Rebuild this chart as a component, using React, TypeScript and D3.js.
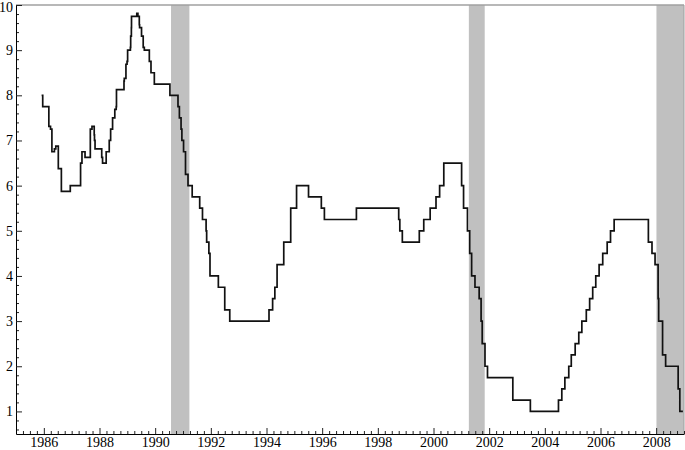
import * as d3 from 'd3';
import React, { useRef, useEffect } from 'react';

// federal funds target: year of each change and the new rate (%)
const changeYears = [
  1985.92, 1985.96, 1986.18, 1986.24, 1986.29, 1986.38, 1986.43, 1986.52, 1986.63, 1986.95,
  1987.32, 1987.37, 1987.48, 1987.67, 1987.73, 1987.81, 1987.82, 1987.84,
  1988.08, 1988.11, 1988.24, 1988.35, 1988.40, 1988.47, 1988.55, 1988.60, 1988.61,
  1988.88, 1988.89, 1988.95, 1988.99, 1989.01, 1989.11, 1989.12, 1989.145, 1989.15,
  1989.34, 1989.38, 1989.43, 1989.44, 1989.51, 1989.57, 1989.61, 1989.79, 1989.85, 1989.97,
  1990.53, 1990.82, 1990.87, 1990.93, 1990.96, 1991.02, 1991.09, 1991.18, 1991.33,
  1991.60, 1991.70, 1991.83, 1991.85, 1991.93, 1991.97, 1992.27, 1992.50, 1992.68,
  1994.09, 1994.22, 1994.30, 1994.38, 1994.62, 1994.87, 1995.08, 1995.51, 1995.97, 1996.08,
  1997.23, 1998.75, 1998.79, 1998.88, 1999.49, 1999.65, 1999.88, 2000.09, 2000.22, 2000.37,
  2001.01, 2001.08, 2001.22, 2001.30, 2001.37, 2001.49, 2001.64, 2001.71, 2001.75, 2001.85,
  2001.94, 2002.85, 2003.48, 2004.49, 2004.61, 2004.72, 2004.86, 2004.95,
  2005.09, 2005.22, 2005.33, 2005.49, 2005.61, 2005.72, 2005.83, 2005.95,
  2006.08, 2006.24, 2006.36, 2006.49, 2007.72, 2007.85, 2007.96, 2008.07, 2008.09,
  2008.23, 2008.34, 2008.79, 2008.85,
];
const targetRates = [
  8.0, 7.75, 7.3125, 7.25, 6.75, 6.8125, 6.875, 6.375, 5.875, 6.0,
  6.5, 6.75, 6.625, 7.25, 7.3125, 7.125, 7.0, 6.8125,
  6.625, 6.5, 6.75, 7.0, 7.25, 7.5, 7.6875, 7.75, 8.125,
  8.3125, 8.375, 8.6875, 8.75, 9.0, 9.0625, 9.3125, 9.5, 9.75,
  9.8125, 9.75, 9.5625, 9.5, 9.3125, 9.0625, 9.0, 8.75, 8.5, 8.25,
  8.0, 7.75, 7.5, 7.25, 7.0, 6.75, 6.25, 6.0, 5.75,
  5.5, 5.25, 5.0, 4.75, 4.5, 4.0, 3.75, 3.25, 3.0,
  3.25, 3.5, 3.75, 4.25, 4.75, 5.5, 6.0, 5.75, 5.5, 5.25,
  5.5, 5.25, 5.0, 4.75, 5.0, 5.25, 5.5, 5.75, 6.0, 6.5,
  6.0, 5.5, 5.0, 4.5, 4.0, 3.75, 3.5, 3.0, 2.5, 2.0,
  1.75, 1.25, 1.0, 1.25, 1.5, 1.75, 2.0, 2.25,
  2.5, 2.75, 3.0, 3.25, 3.5, 3.75, 4.0, 4.25,
  4.5, 4.75, 5.0, 5.25, 4.75, 4.5, 4.25, 3.5, 3.0,
  2.25, 2.0, 1.5, 1.0,
];
const seriesEnd = 2008.96;

// recessions (shaded)
const recessionStarts = [1990.57, 2001.27, 2008.01];
const recessionEnds = [1991.23, 2001.84, 2009];

const yearTicks = [1986, 1988, 1990, 1992, 1994, 1996, 1998, 2000, 2002, 2004, 2006, 2008];
const rateTicks = [1, 2, 3, 4, 5, 6, 7, 8, 9, 10];

const FONT = 'Liberation Serif';

function App() {
  const ref = useRef<SVGSVGElement>(null);

  const W = 685, H = 450;
  const margin = { top: 5, right: 1, bottom: 16, left: 16 };

  useEffect(() => {
    const svg = d3.select(ref.current);
    svg.selectAll('*').remove();

    const x = d3.scaleLinear().domain([1985, 2009]).range([margin.left, W - margin.right]);
    const y = d3.scaleLinear().domain([0.5, 10]).range([H - margin.bottom, margin.top]);

    // recession bars
    svg.selectAll('rect.rec')
      .data(recessionStarts)
      .enter()
      .append('rect')
      .attr('class', 'rec')
      .attr('x', d => x(d))
      .attr('y', y(10))
      .attr('width', (d, i) => x(recessionEnds[i]) - x(d))
      .attr('height', y(0.5) - y(10))
      .attr('fill', '#c0c0c0');

    // frame top/right
    svg.append('line')
      .attr('x1', x(1985)).attr('x2', x(2009))
      .attr('y1', y(10)).attr('y2', y(10))
      .attr('stroke', '#a0a0a0').attr('stroke-width', 1.5);
    svg.append('line')
      .attr('x1', x(2009)).attr('x2', x(2009))
      .attr('y1', y(10)).attr('y2', y(0.5))
      .attr('stroke', '#a0a0a0').attr('stroke-width', 1);

    // x axis
    const minorYears = d3.range(1985, 2009.01, 0.25).filter(v => yearTicks.indexOf(v) < 0);
    svg.append('g')
      .attr('transform', `translate(0, ${y(0.5)})`)
      .call(d3.axisBottom(x).tickValues(minorYears).tickSize(-3).tickSizeOuter(0).tickFormat(() => ''))
      .call(g => g.select('.domain').remove());
    const xa = svg.append('g')
      .attr('transform', `translate(0, ${y(0.5)})`)
      .call(d3.axisBottom(x).tickValues(yearTicks).tickSize(-6).tickSizeOuter(0).tickPadding(3).tickFormat(d3.format('d')));
    xa.attr('font-family', FONT).attr('font-size', 14);
    xa.selectAll('text').attr('font-family', FONT).attr('font-size', 14).attr('fill', '#000');

    // y axis
    const minorRates = d3.range(6, 100, 2).map(v => v / 10).filter(v => v % 1 !== 0);
    svg.append('g')
      .attr('transform', `translate(${x(1985)}, 0)`)
      .call(d3.axisLeft(y).tickValues(minorRates).tickSize(-3).tickSizeOuter(0).tickFormat(() => ''))
      .call(g => g.select('.domain').remove());
    const ya = svg.append('g')
      .attr('transform', `translate(${x(1985)}, 0)`)
      .call(d3.axisLeft(y).tickValues(rateTicks).tickSize(-6).tickSizeOuter(0).tickPadding(3).tickFormat(d3.format('d')));
    ya.attr('font-family', FONT).attr('font-size', 14);
    ya.selectAll('text').attr('font-family', FONT).attr('font-size', 14).attr('fill', '#000');
    ya.selectAll('text').filter(d => d === 10).attr('dy', '0.45em');

    svg.selectAll('.tick line').attr('stroke', '#222');

    // step line
    const pts: [number, number][] = changeYears.map((d, i) => [d, targetRates[i]]);
    pts.push([seriesEnd, targetRates[targetRates.length - 1]]);
    const line = d3.line<[number, number]>()
      .x(d => x(d[0]))
      .y(d => y(d[1]))
      .curve(d3.curveStepAfter);
    svg.append('path')
      .datum(pts)
      .attr('d', line)
      .attr('fill', 'none')
      .attr('stroke', '#111')
      .attr('stroke-width', 1.7);
  }, []);

  return (
    <div style={{ position: 'absolute', left: 0, top: 0 }}>
      <svg ref={ref} width={W} height={H} style={{ display: 'block', background: '#fff' }}></svg>
    </div>
  );
}

export default App;
